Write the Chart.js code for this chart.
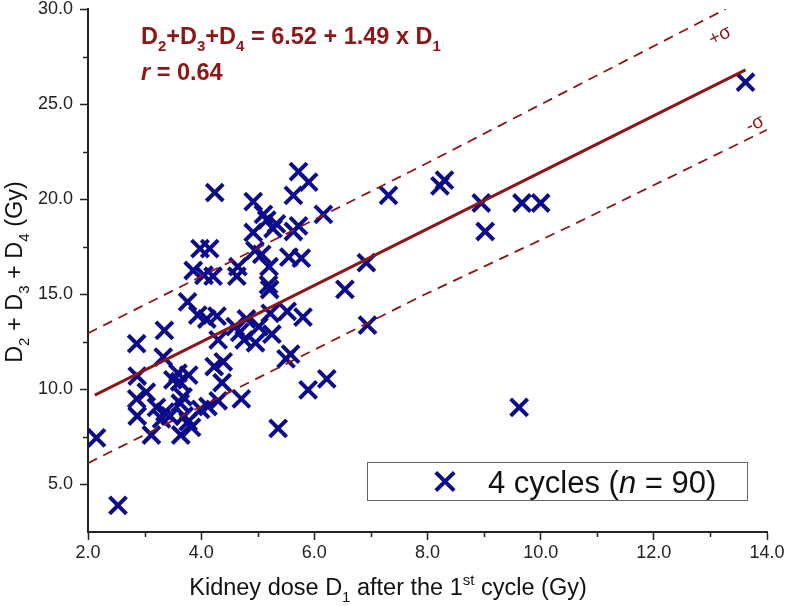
<!DOCTYPE html>
<html><head><meta charset="utf-8">
<script src="https://cdn.jsdelivr.net/npm/chart.js@4/dist/chart.umd.min.js"></script>
<style>html,body{margin:0;padding:0;background:#fff}canvas{display:block}</style>
</head><body>
<canvas id="c" width="787" height="606"></canvas>
<script>
// Scatter values: kidney dose D1 (x) and D2+D3+D4 (y)
const d1 = [
  2.15, 2.53, 2.86, 2.87, 2.86, 3.03, 2.87, 3.12, 3.21, 3.36,
  3.45, 3.30, 3.35, 3.33, 3.50, 3.62, 3.59, 3.78, 3.63, 3.70,
  3.77, 3.64, 3.83, 3.99, 4.12, 4.30, 4.23, 4.39, 4.37, 4.71,
  3.76, 3.94, 4.10, 4.28, 4.30,
  4.60, 4.68, 4.76, 4.80, 4.96, 5.25, 5.22, 5.52, 5.80, 5.58, 5.50,
  4.24, 4.92, 5.72, 5.90, 5.63, 6.16, 5.16, 5.33, 5.27, 4.92,
  5.72, 5.63, 4.95, 5.07, 3.98, 4.15, 3.86, 4.05, 4.21, 4.65,
  4.63, 5.20, 5.55, 5.77, 5.19, 5.21,
  6.92, 6.54, 6.94, 7.31, 8.22, 8.30, 8.95, 9.67, 10.00, 9.02,
  9.62, 13.62, 5.89, 6.22, 5.36,
  3.68, 5.02, 5.10
];
const dSum = [
  7.45, 3.90, 12.40, 10.70, 9.50, 9.85, 8.60, 7.60, 9.05, 8.80,
  8.60, 8.45, 13.10, 11.70, 10.50, 10.40, 10.85, 10.75, 9.27, 8.60,
  8.30, 7.60, 8.00, 8.95, 9.10, 9.40, 11.20, 11.45, 10.35, 9.50,
  14.60, 13.90, 13.70, 13.85, 12.60,
  13.30, 13.00, 12.60, 13.70, 12.45, 12.90, 14.00, 14.10, 13.80, 11.85, 11.60,
  20.35, 19.87, 21.45, 20.90, 20.20, 19.20, 18.90, 18.70, 18.45, 18.25,
  18.60, 18.30, 17.30, 17.10, 17.40, 17.40, 16.25, 16.00, 15.95, 16.45,
  15.95, 16.45, 16.95, 16.90, 15.50, 15.25,
  16.66, 15.26, 13.38, 20.20, 20.70, 21.00, 19.80, 19.80, 19.80, 18.30,
  9.05, 26.15, 9.97, 10.55, 7.95,
  9.60, 13.30, 19.20
];
// Regression line and ±σ bands
const fitX = [2.12, 13.62];
const fitY = [9.70, 26.80];
const upperX = [2.00, 7.93, 13.27];
const upperY = [12.95, 21.80, 30.00];
const lowerX = [2.00, 7.93, 10.56, 14.00];
const lowerY = [6.12, 14.96, 18.64, 23.65];
// Axis ticks
const xTicks = [2, 4, 6, 8, 10, 12, 14];
const yTicks = [5, 10, 15, 20, 25, 30];
const xMinor = [3, 5, 7, 9, 11, 13];
const yMinor = [7.5, 12.5, 17.5, 22.5, 27.5];
const seriesLabel = '4 cycles (n = 90)';

const RED = '#8e1616';
const NAVY = '#0c0c8a';
const AX = '#222222';
const FAM = '"Liberation Sans", Arial, sans-serif';

function fontStr(size, seg, weight) {
  return (seg.it ? 'italic ' : '') + (weight || 'normal') + ' ' + size + 'px ' + FAM;
}
function drawRich(ctx, segs, x, y, size, align, weight) {
  const parts = segs.map(s => {
    const sz = (s.sub || s.sup) ? Math.round(size * 0.64) : size;
    ctx.font = fontStr(sz, s, weight);
    return {s, sz, w: ctx.measureText(s.t).width};
  });
  const total = parts.reduce((a, p) => a + p.w, 0);
  let cx = align === 'center' ? x - total / 2 : x;
  ctx.textBaseline = 'alphabetic';
  ctx.textAlign = 'left';
  for (const p of parts) {
    ctx.font = fontStr(p.sz, p.s, weight);
    let dy = 0;
    if (p.s.sub) dy = size * 0.28;
    if (p.s.sup) dy = -size * 0.42;
    ctx.fillText(p.s.t, cx, y + dy);
    cx += p.w;
  }
  return total;
}

const decor = {
  id: 'decor',
  afterDatasetsDraw(chart) {
    const ctx = chart.ctx;
    const xs = chart.scales.x, ys = chart.scales.y;
    const ca = chart.chartArea;
    ctx.save();
    // minor ticks
    ctx.strokeStyle = AX; ctx.lineWidth = 1.5;
    ctx.beginPath();
    xMinor.forEach(v => { const p = Math.round(xs.getPixelForValue(v)) + 0.5; ctx.moveTo(p, ca.bottom); ctx.lineTo(p, ca.bottom + 5); });
    yMinor.forEach(v => { const p = Math.round(ys.getPixelForValue(v)) + 0.5; ctx.moveTo(ca.left - 5, p); ctx.lineTo(ca.left, p); });
    ctx.stroke();

    // equation and r
    ctx.fillStyle = RED;
    drawRich(ctx, [{t:'D'},{t:'2',sub:1},{t:'+D'},{t:'3',sub:1},{t:'+D'},{t:'4',sub:1},{t:' = 6.52 + 1.49 x D'},{t:'1',sub:1}], ca.left + 53, ca.top + 35, 23.5, 'left', 'bold');
    drawRich(ctx, [{t:'r',it:1},{t:' = 0.64'}], ca.left + 53, ca.top + 71, 23.5, 'left', 'bold');

    // sigma labels, rotated along the band slope
    const ang = Math.atan2(ys.getPixelForValue(26.8) - ys.getPixelForValue(9.7), xs.getPixelForValue(13.62) - xs.getPixelForValue(2.12));
    ctx.font = '19px ' + FAM;
    ctx.textAlign = 'center'; ctx.textBaseline = 'middle';
    ctx.save(); ctx.translate(720, 36); ctx.rotate(ang); ctx.fillText('+\u03C3', 0, 0); ctx.restore();
    ctx.save(); ctx.translate(755, 124); ctx.rotate(ang); ctx.fillText('-\u03C3', 0, 0); ctx.restore();

    // legend box
    const bx = 367.5, by = 462.5, bw = 380, bh = 38;
    ctx.fillStyle = '#ffffff'; ctx.fillRect(bx, by, bw, bh);
    ctx.strokeStyle = '#666666'; ctx.lineWidth = 1; ctx.strokeRect(bx, by, bw, bh);
    ctx.strokeStyle = NAVY; ctx.fillStyle = NAVY; ctx.lineWidth = 4;
    Chart.helpers.drawPoint(ctx, {pointStyle: 'crossRot', radius: 13, rotation: 0, borderWidth: 4}, 445, by + bh / 2);
    ctx.fillStyle = '#111111';
    const m = seriesLabel.match(/^(.*\()(n)(.*)$/);
    drawRich(ctx, [{t: m[1]}, {t: m[2], it: 1}, {t: m[3]}], 488, by + bh / 2 + 11, 31, 'left');

    // axis titles
    ctx.fillStyle = '#111111';
    drawRich(ctx, [{t:'Kidney dose D'},{t:'1',sub:1},{t:' after the 1'},{t:'st',sup:1},{t:' cycle (Gy)'}], 388, 595, 23.5, 'center');
    ctx.save(); ctx.translate(22, 272); ctx.rotate(-Math.PI / 2);
    drawRich(ctx, [{t:'D'},{t:'2',sub:1},{t:' + D'},{t:'3',sub:1},{t:' + D'},{t:'4',sub:1},{t:' (Gy)'}], 0, 0, 23.5, 'center');
    ctx.restore();
    ctx.restore();
  }
};

const tickFont = {family: FAM, size: 18};
new Chart(document.getElementById('c').getContext('2d'), {
  type: 'scatter',
  data: {
    datasets: [
      {label: 'fit', data: fitX.map((x, i) => ({x, y: fitY[i]})), showLine: true, borderColor: RED, borderWidth: 3, pointRadius: 0, order: 0},
      {label: '+σ', data: upperX.map((x, i) => ({x, y: upperY[i]})), showLine: true, borderColor: RED, borderWidth: 1.8, borderDash: [10, 7], pointRadius: 0, order: 0},
      {label: '-σ', data: lowerX.map((x, i) => ({x, y: lowerY[i]})), showLine: true, borderColor: RED, borderWidth: 1.8, borderDash: [10, 7], pointRadius: 0, order: 0},
      {label: seriesLabel, data: d1.map((x, i) => ({x, y: dSum[i]})), pointStyle: 'crossRot', pointRadius: 12, pointBorderWidth: 4, borderColor: NAVY, backgroundColor: NAVY, order: 1}
    ]
  },
  options: {
    responsive: false,
    animation: false,
    layout: {autoPadding: false, padding: {left: 0, right: 20, top: 9, bottom: 0}},
    plugins: {legend: {display: false}, tooltip: {enabled: false}},
    scales: {
      x: {
        type: 'linear', min: 2, max: 14,
        afterBuildTicks: s => { s.ticks = xTicks.map(v => ({value: v})); },
        afterFit: s => { s.height = 74; },
        ticks: {font: tickFont, color: AX, padding: 2, maxRotation: 0, callback: v => Number(v).toFixed(1)},
        grid: {drawOnChartArea: false, drawTicks: true, tickLength: 8, tickColor: AX, tickWidth: 1.5},
        border: {display: true, color: AX, width: 2}
      },
      y: {
        type: 'linear', min: 2.5, max: 30,
        afterBuildTicks: s => { s.ticks = yTicks.map(v => ({value: v})); },
        afterFit: s => { s.width = 88; s.paddingTop = 0; s.paddingBottom = 0; },
        ticks: {font: tickFont, color: AX, padding: 7, callback: v => Number(v).toFixed(1)},
        grid: {drawOnChartArea: false, drawTicks: true, tickLength: 8, tickColor: AX, tickWidth: 1.5},
        border: {display: true, color: AX, width: 2}
      }
    }
  },
  plugins: [decor]
});
</script>
</body></html>
